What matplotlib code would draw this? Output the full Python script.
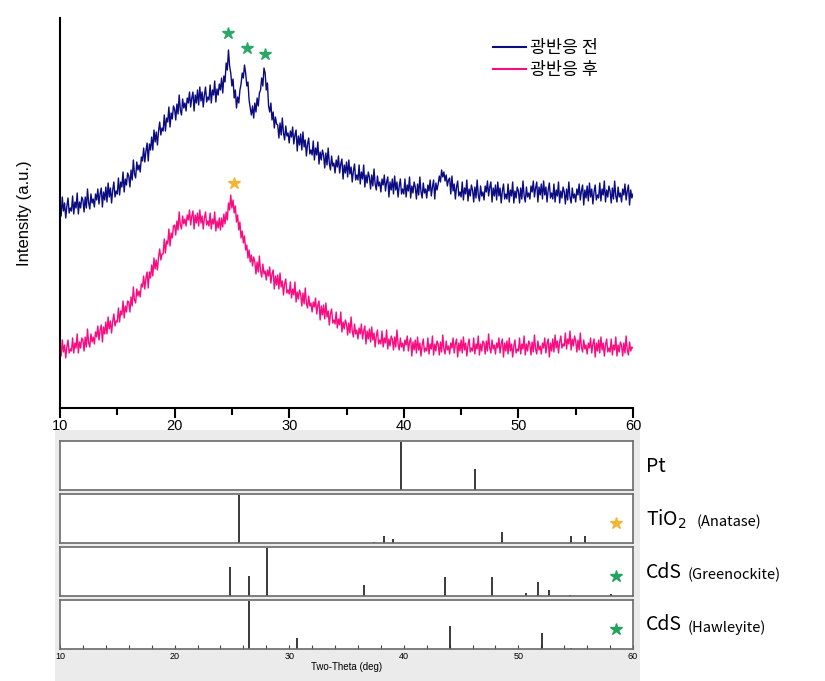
import numpy as np
import matplotlib
matplotlib.use('Agg')
import matplotlib.pyplot as plt
from matplotlib.patches import Rectangle
from matplotlib.ticker import MultipleLocator

plt.rcParams['font.family'] = ['Liberation Sans', 'Noto Sans CJK KR', 'DejaVu Sans']

# ---------------- data ----------------
two_theta = np.linspace(10, 60, 501)

before = [
    207, 192, 211, 197, 205, 190, 202, 210, 195, 200,
    197, 212, 194, 206, 200, 215, 194, 206, 200, 211,
    208, 196, 211, 200, 219, 205, 199, 214, 205, 209,
    201, 214, 208, 219, 204, 214, 220, 201, 216, 208,
    221, 206, 225, 211, 220, 205, 218, 226, 211, 217,
    214, 230, 213, 226, 221, 236, 216, 229, 223, 235,
    232, 221, 238, 228, 248, 234, 230, 246, 238, 243,
    236, 251, 247, 260, 246, 257, 265, 247, 264, 258,
    271, 258, 278, 266, 276, 263, 277, 286, 273, 280,
    277, 293, 277, 290, 286, 301, 281, 295, 289, 302,
    299, 288, 304, 294, 313, 298, 293, 309, 300, 305,
    297, 310, 305, 316, 301, 310, 316, 297, 313, 305,
    318, 303, 321, 307, 316, 301, 313, 321, 306, 311,
    308, 323, 305, 318, 313, 327, 306, 319, 313, 324,
    318, 330, 315, 332, 326, 345, 338, 358, 342, 335,
    322, 329, 310, 318, 300, 311, 305, 318, 324, 335,
    330, 343, 335, 322, 326, 308, 300, 293, 302, 290,
    305, 296, 310, 302, 315, 318, 330, 322, 340, 335,
    318, 325, 302, 296, 305, 288, 296, 280, 291, 284,
    283, 270, 285, 273, 290, 275, 268, 282, 272, 275,
    265, 277, 271, 281, 264, 273, 278, 257, 272, 263,
    274, 258, 276, 261, 268, 252, 264, 270, 254, 258,
    253, 267, 248, 260, 253, 266, 244, 256, 248, 258,
    253, 240, 255, 243, 260, 245, 238, 252, 242, 245,
    235, 248, 241, 252, 235, 244, 249, 229, 243, 235,
    246, 231, 248, 234, 241, 226, 237, 244, 228, 233,
    228, 243, 224, 236, 229, 243, 221, 233, 225, 236,
    231, 219, 233, 222, 239, 224, 218, 232, 222, 226,
    216, 229, 223, 233, 217, 226, 231, 211, 226, 218,
    229, 214, 232, 218, 226, 211, 222, 229, 214, 219,
    214, 229, 211, 223, 217, 231, 210, 222, 215, 226,
    221, 209, 224, 213, 231, 216, 210, 225, 215, 219,
    210, 223, 217, 228, 212, 221, 228, 209, 225, 218,
    224, 232, 226, 238, 231, 236, 227, 233, 222, 228,
    230, 214, 232, 217, 224, 209, 221, 227, 212, 216,
    211, 226, 208, 220, 214, 228, 207, 219, 212, 223,
    218, 206, 221, 210, 228, 213, 207, 222, 212, 216,
    208, 222, 216, 227, 212, 221, 226, 206, 220, 212,
    223, 208, 226, 212, 220, 205, 217, 224, 209, 214,
    209, 224, 206, 218, 212, 226, 205, 217, 210, 221,
    217, 205, 220, 209, 227, 212, 206, 221, 211, 215,
    209, 222, 216, 227, 211, 220, 226, 206, 221, 213,
    224, 209, 227, 213, 221, 206, 218, 225, 210, 215,
    209, 224, 206, 218, 212, 226, 205, 217, 210, 221,
    216, 204, 219, 208, 226, 211, 205, 220, 210, 214,
    206, 219, 213, 224, 208, 217, 223, 203, 218, 210,
    222, 207, 225, 211, 219, 204, 216, 223, 208, 213,
    210, 225, 207, 219, 213, 227, 206, 218, 211, 222,
    217, 205, 220, 209, 227, 212, 206, 221, 211, 215,
    206, 219, 213, 224, 208, 217, 223, 203, 218, 210,
    214,
]

after = [
    65, 52, 68, 56, 63, 50, 61, 68, 55, 59,
    57, 70, 55, 65, 60, 74, 55, 66, 60, 70,
    68, 57, 71, 61, 79, 65, 61, 74, 66, 71,
    64, 76, 71, 82, 68, 78, 83, 66, 81, 74,
    86, 74, 91, 79, 87, 75, 87, 94, 82, 87,
    86, 100, 86, 97, 93, 107, 90, 102, 96, 107,
    106, 96, 111, 102, 121, 108, 105, 119, 112, 117,
    111, 124, 121, 132, 119, 130, 136, 120, 136, 130,
    143, 132, 150, 139, 148, 138, 151, 159, 148, 154,
    154, 169, 155, 167, 164, 179, 162, 175, 170, 182,
    183, 173, 187, 178, 196, 183, 179, 192, 184, 189,
    182, 193, 188, 198, 183, 192, 197, 179, 193, 185,
    195, 182, 198, 185, 192, 179, 190, 196, 183, 187,
    182, 195, 179, 189, 184, 196, 177, 187, 180, 190,
    178, 190, 181, 194, 184, 196, 188, 205, 198, 213,
    200, 208, 195, 202, 186, 193, 178, 186, 170, 177,
    165, 172, 158, 163, 150, 158, 146, 153, 142, 151,
    146, 134, 146, 136, 152, 137, 131, 144, 134, 137,
    128, 138, 132, 141, 125, 134, 138, 119, 132, 123,
    133, 119, 135, 121, 127, 113, 124, 129, 115, 118,
    114, 126, 110, 119, 113, 126, 106, 116, 109, 118,
    114, 102, 115, 104, 120, 105, 100, 112, 102, 105,
    96, 106, 101, 110, 94, 103, 107, 88, 102, 93,
    103, 89, 105, 91, 97, 83, 94, 99, 85, 88,
    84, 96, 80, 89, 83, 96, 76, 86, 79, 88,
    84, 73, 85, 75, 91, 77, 71, 84, 74, 78,
    69, 80, 74, 84, 69, 77, 82, 64, 77, 69,
    79, 66, 81, 68, 75, 61, 72, 78, 64, 68,
    64, 77, 61, 70, 65, 78, 59, 69, 62, 72,
    69, 58, 71, 61, 78, 64, 58, 70, 61, 65,
    57, 68, 63, 72, 57, 66, 70, 52, 66, 58,
    68, 55, 71, 58, 65, 52, 63, 69, 56, 60,
    57, 70, 54, 64, 59, 72, 53, 64, 57, 67,
    64, 53, 66, 56, 73, 59, 54, 67, 58, 62,
    54, 65, 60, 70, 55, 64, 69, 51, 65, 57,
    68, 55, 71, 58, 65, 52, 63, 69, 56, 60,
    57, 70, 54, 64, 59, 72, 53, 64, 57, 67,
    65, 54, 67, 57, 74, 60, 55, 68, 59, 63,
    54, 65, 60, 70, 55, 64, 69, 51, 65, 57,
    67, 54, 70, 57, 64, 51, 62, 68, 55, 59,
    57, 70, 54, 64, 59, 72, 53, 64, 57, 67,
    64, 53, 66, 56, 73, 59, 54, 67, 58, 62,
    54, 65, 60, 70, 55, 64, 69, 51, 65, 57,
    69, 56, 73, 60, 67, 55, 66, 72, 60, 64,
    62, 75, 59, 69, 64, 77, 58, 69, 62, 72,
    67, 56, 68, 58, 75, 61, 56, 68, 59, 63,
    54, 65, 60, 70, 55, 64, 69, 51, 65, 57,
    68, 55, 71, 58, 65, 52, 63, 69, 56, 60,
    56, 69, 53, 63, 58, 71, 52, 63, 56, 66,
    63, 52, 65, 55, 72, 58, 53, 66, 57, 61,
    60,
]

series_labels = ['광반응 전', '광반응 후']

green_star_x = [24.7, 26.3, 27.9]
green_star_y = [375, 360, 354]
yellow_star_x = [25.2]
yellow_star_y = [225]

# reference patterns: (positions, relative intensities)
pt_pos = [39.78, 46.2]
pt_int = [100, 45]
anatase_pos = [25.6, 37.4, 38.3, 39.1, 48.6, 54.6, 55.8]
anatase_int = [100, 3, 14, 8, 23, 14, 14]
greenockite_pos = [24.8, 26.46, 28.1, 36.5, 43.6, 47.7, 50.7, 51.7, 52.7, 54.5, 58.1]
greenockite_int = [60, 43, 100, 24, 41, 41, 6, 30, 13, 3, 5]
hawleyite_pos = [26.5, 30.7, 44.0, 52.1, 54.6]
hawleyite_int = [100, 23, 48, 34, 3]

panel_names = ['Pt', 'TiO$_2$', 'CdS', 'CdS']
panel_subs = ['', '(Anatase)', '(Greenockite)', '(Hawleyite)']
panel_marks = [None, '#f2b632', '#22a35c', '#22a35c']

# ---------------- figure ----------------
W, H = 825, 681
fig = plt.figure(figsize=(W / 100, H / 100), dpi=100)

def fx(px):
    return px / W

def fy(py):
    return 1 - py / H

navy = '#0b0b82'
pink = '#fa0c80'

# gray background for reference panels
fig.patches.append(Rectangle((fx(55), 0), fx(640) - fx(55), fy(430), transform=fig.transFigure,
                             facecolor='#ebebeb', edgecolor='none', zorder=-5))

ax = fig.add_axes([fx(60), fy(408), fx(633) - fx(60), fy(18) - fy(408)])
ax.patch.set_alpha(0)
ax.plot(two_theta, before, color=navy, lw=1.0, label=series_labels[0])
ax.plot(two_theta, after, color=pink, lw=1.0, label=series_labels[1])
ax.plot(green_star_x, green_star_y, ls='none', marker='*', ms=9, color='#2aa865')
ax.plot(yellow_star_x, yellow_star_y, ls='none', marker='*', ms=9, color='#f2b632')
ax.set_xlim(10, 60)
ax.set_ylim(0, 390)
ax.spines['top'].set_visible(False)
ax.spines['right'].set_visible(False)
for s in ('left', 'bottom'):
    ax.spines[s].set_linewidth(1.5)
ax.set_yticks([])
ax.xaxis.set_major_locator(MultipleLocator(10))
ax.xaxis.set_minor_locator(MultipleLocator(5))
ax.tick_params(axis='x', which='major', direction='out', length=7, width=1.5, labelsize=10.5, pad=1)
ax.tick_params(axis='x', which='minor', direction='out', length=5, width=1.5)
ax.set_ylabel('Intensity (a.u.)', fontsize=12, labelpad=20)
leg = ax.legend(loc='upper left', bbox_to_anchor=(0.728, 0.985), frameon=False,
                prop={'family': ['Noto Sans CJK KR'], 'size': 12.5},
                handlelength=1.9, handletextpad=0.25, labelspacing=0.2)
for h in leg.get_lines():
    h.set_linewidth(1.5)

tops = [441, 494, 547, 600]
data_sets = [(pt_pos, pt_int), (anatase_pos, anatase_int),
             (greenockite_pos, greenockite_int), (hawleyite_pos, hawleyite_int)]
for i, (top, (pos, inten)) in enumerate(zip(tops, data_sets)):
    pax = fig.add_axes([fx(60), fy(top + 49), fx(633) - fx(60), fy(top) - fy(top + 49)])
    pax.set_facecolor('white')
    pax.vlines(pos, 0, np.array(inten) / 100 * 0.97, color='#2a2a2a', lw=1.3)
    pax.set_xlim(10, 60)
    pax.set_ylim(0, 1)
    pax.set_yticks([])
    for s in pax.spines.values():
        s.set_color('#6a6a6a')
        s.set_linewidth(1.2)
    if panel_marks[i]:
        pax.plot([58.5], [0.4], ls='none', marker='*', ms=9, color=panel_marks[i])
    if i == 3:
        pax.xaxis.set_major_locator(MultipleLocator(10))
        pax.xaxis.set_minor_locator(MultipleLocator(2))
        pax.tick_params(axis='x', which='both', direction='in', length=3, width=0.8,
                        labelsize=6.5, pad=2, color='#444444')
        pax.set_xlabel('Two-Theta (deg)', fontsize=7, labelpad=1)
    else:
        pax.set_xticks([])
    ytxt = fy(top + 25)
    fig.text(fx(646), ytxt, panel_names[i], fontsize=14, va='center', ha='left',
             family=['Noto Sans CJK KR', 'DejaVu Sans'])

sub_x = [None, 697, 688, 688]
for i, top in enumerate(tops):
    if panel_subs[i]:
        fig.text(fx(sub_x[i]), fy(top + 28), panel_subs[i], fontsize=10.5, va='center', ha='left',
                 family=['Noto Sans CJK KR', 'DejaVu Sans'])

fig.savefig('out.png', dpi=100)
